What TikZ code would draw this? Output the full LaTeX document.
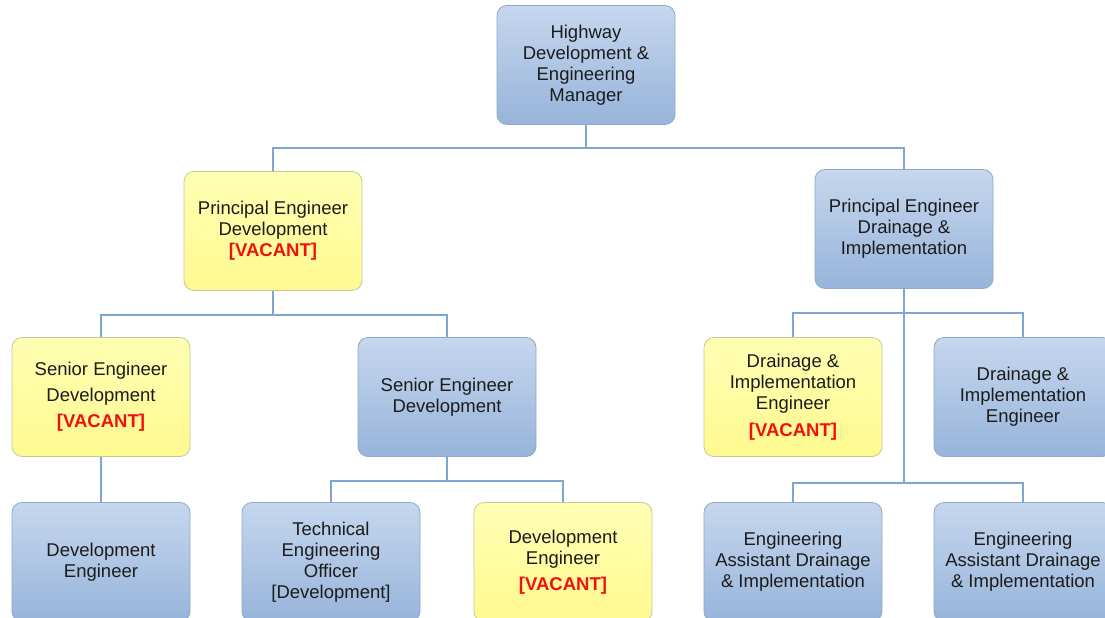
\documentclass[tikz,border=0pt]{standalone}
\usepackage{fontspec}
\setmainfont{Liberation Sans}
\definecolor{bluetop}{HTML}{C6D7EE}
\definecolor{bluebot}{HTML}{97B4DA}
\definecolor{bluebd}{HTML}{8FA8C6}
\definecolor{yeltop}{HTML}{FFFFB4}
\definecolor{yelbot}{HTML}{FFF990}
\definecolor{yelbd}{HTML}{C9C79A}
\definecolor{linkc}{HTML}{7FA6D2}
\definecolor{vacred}{HTML}{F01010}
\definecolor{txt}{HTML}{1C1C1C}
\tikzset{
  box/.style={rounded corners=10pt, minimum width=178pt, minimum height=119pt,
    align=center, inner sep=2pt, text=txt, line width=0.8pt,
    font=\fontsize{18.5}{21}\selectfont},
  bluebox/.style={box, draw=bluebd, top color=bluetop, bottom color=bluebot},
  yellowbox/.style={box, draw=yelbd, top color=yeltop, bottom color=yelbot},
  link/.style={draw=linkc, line width=1.3pt}
}
\newcommand{\vacant}{\textcolor{vacred}{\textbf{[VACANT]}}}
\begin{document}
\begin{tikzpicture}[x=1pt, y=-1pt]
\useasboundingbox (0,0) rectangle (1105,618);
\fill[white] (0,0) rectangle (1105,618);
\begin{scope}
\clip (0,0) rectangle (1105,618);

% manager
\node[bluebox] (mgr) at (586,65) {Highway\\Development \&\\Engineering\\Manager};

% principal engineers
\node[yellowbox] (pedev) at (273,231) {Principal Engineer\\Development\\\vacant};
\node[bluebox] (pedrain) at (904,229) {Principal Engineer\\Drainage \&\\Implementation};

% senior engineers / drainage engineers
\node[yellowbox] (sedevv) at (101,397) {Senior Engineer\\[5pt]Development\\[5pt]\vacant};
\node[bluebox] (sedev) at (447,397) {Senior Engineer\\Development};
\node[yellowbox] (dieng) at (793,397) {Drainage \&\\Implementation\\Engineer\\[6pt]\vacant};
\node[bluebox] (diengb) at (1023,397) {Drainage \&\\Implementation\\Engineer};

% bottom row
\node[bluebox] (deveng) at (101,562) {Development\\Engineer};
\node[bluebox] (teo) at (331,562) {Technical\\Engineering\\Officer\\{[Development]}};
\node[yellowbox] (devengv) at (563,562) {Development\\Engineer\\[5pt]\vacant};
\node[bluebox] (ea1) at (793,562) {Engineering\\Assistant Drainage\\\& Implementation};
\node[bluebox] (ea2) at (1023,562) {Engineering\\Assistant Drainage\\\& Implementation};

% connectors
\coordinate (b1) at (586,148);
\draw[link] (mgr.south) -- (b1);
\draw[link] (b1) -| (pedev.north);
\draw[link] (b1) -| (pedrain.north);

\coordinate (b2) at (273,315);
\draw[link] (pedev.south) -- (b2);
\draw[link] (b2) -| (sedevv.north);
\draw[link] (b2) -| (sedev.north);

\coordinate (b3) at (904,313);
\coordinate (b4) at (904,483);
\draw[link] (pedrain.south) -- (b4);
\draw[link] (b3) -| (dieng.north);
\draw[link] (b3) -| (diengb.north);
\draw[link] (b4) -| (ea1.north);
\draw[link] (b4) -| (ea2.north);

\draw[link] (sedevv.south) -- (deveng.north);

\coordinate (b5) at (447,481);
\draw[link] (sedev.south) -- (b5);
\draw[link] (b5) -| (teo.north);
\draw[link] (b5) -| (devengv.north);
\end{scope}
\end{tikzpicture}
\end{document}
